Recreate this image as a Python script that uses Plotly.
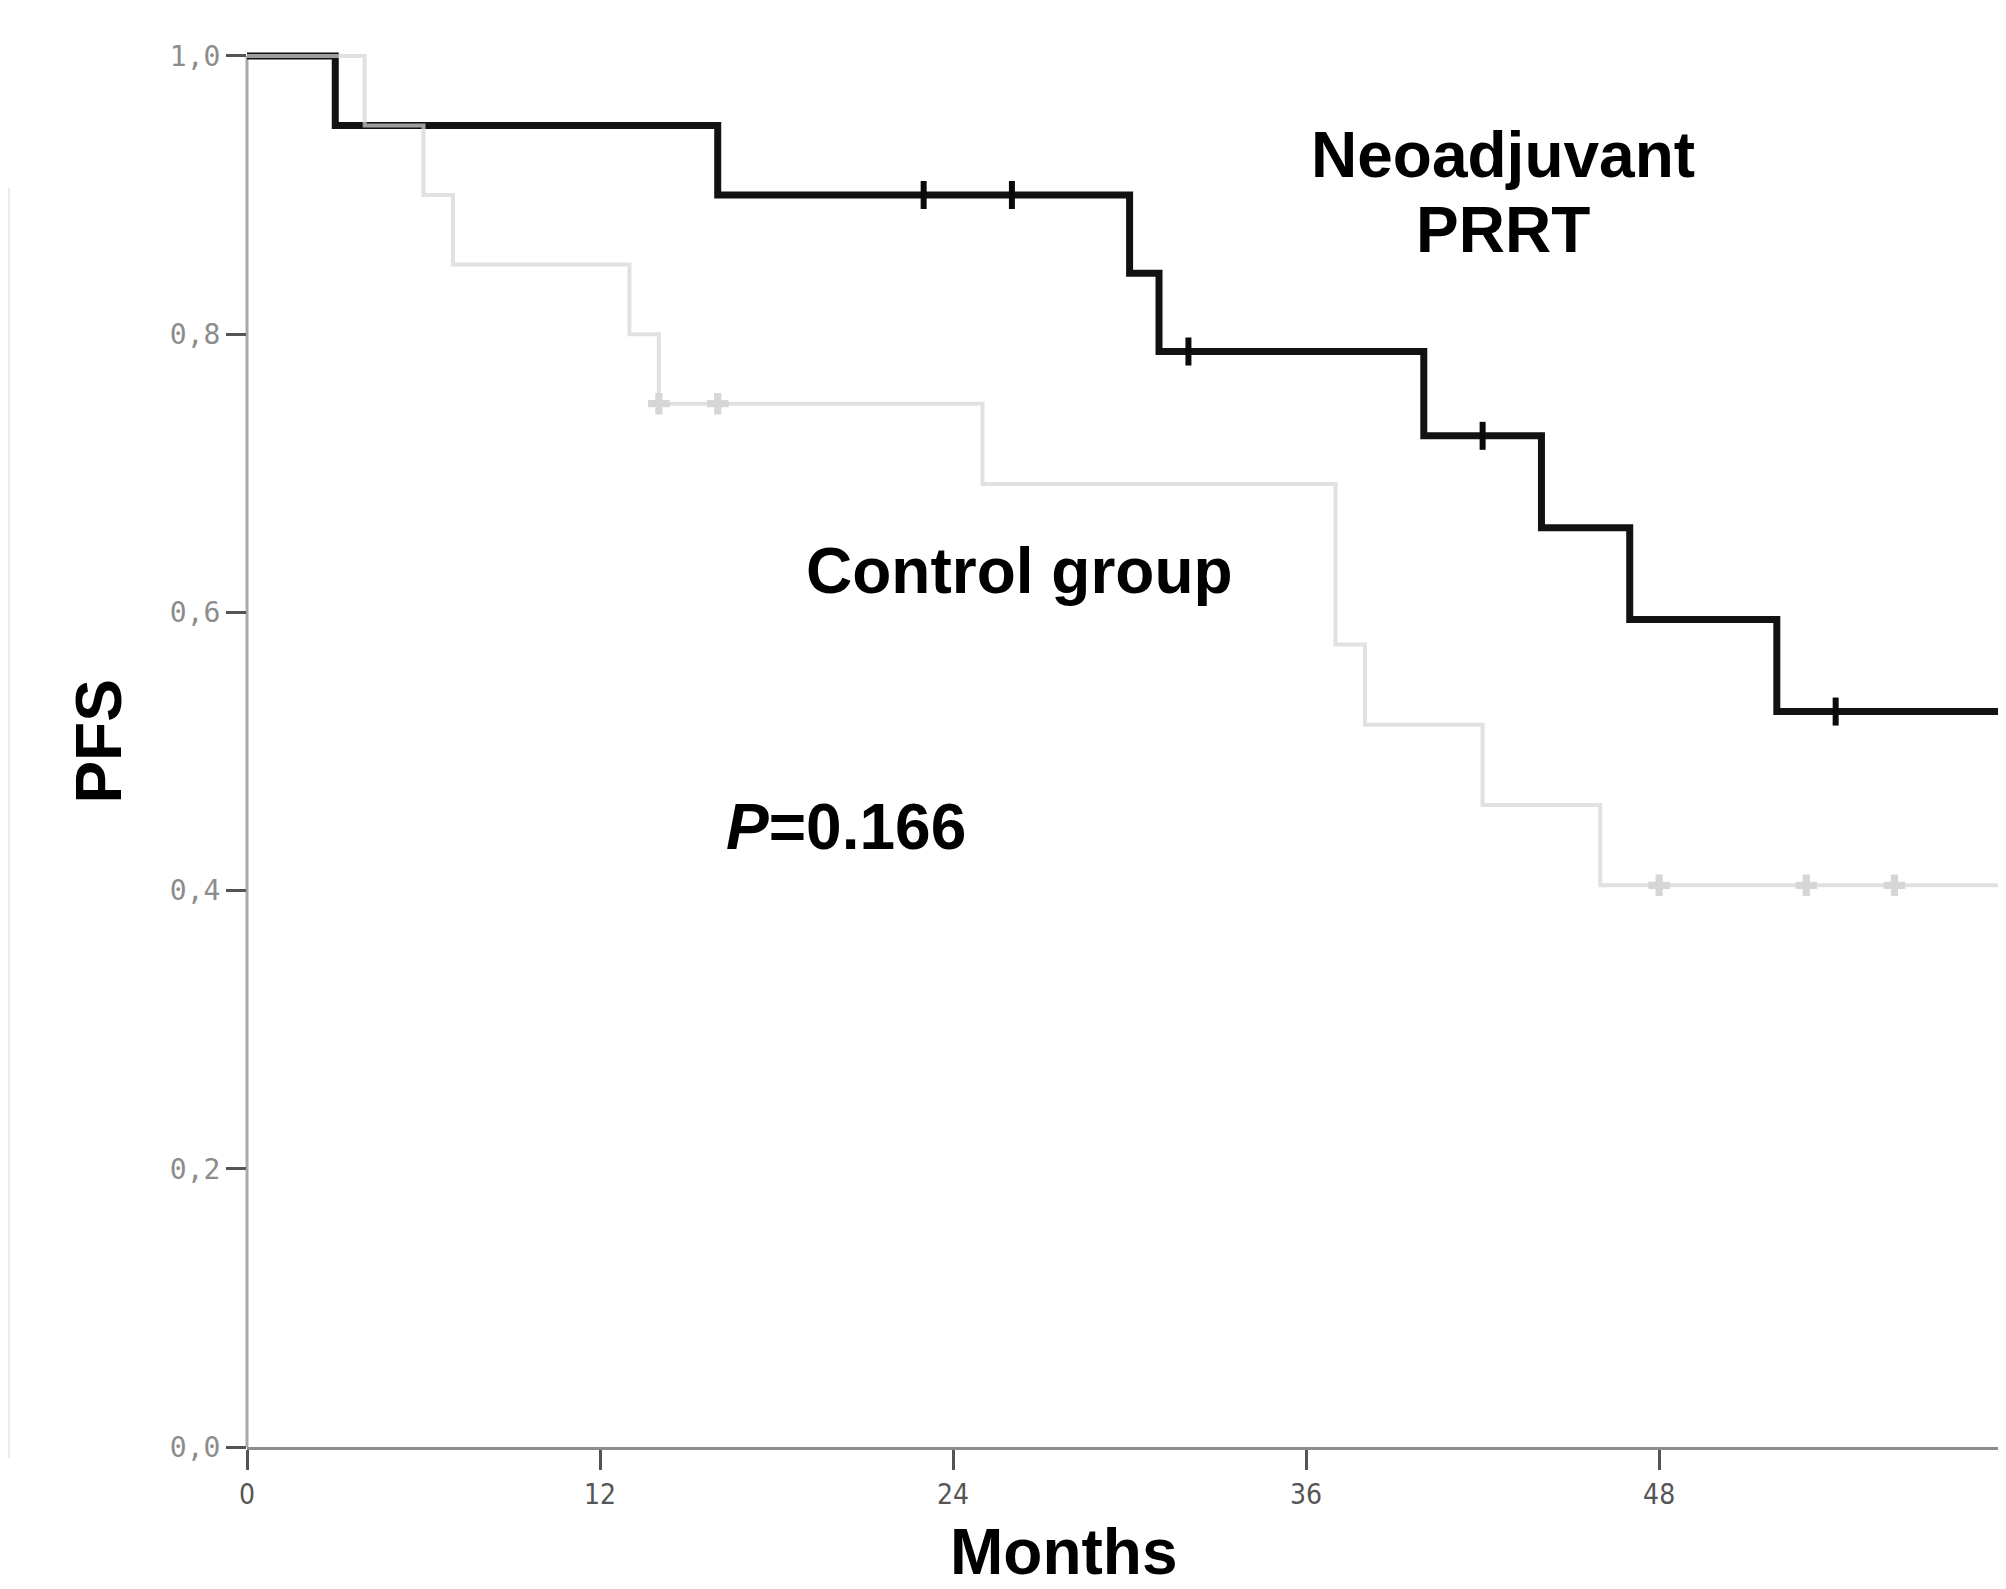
import numpy as np
import plotly.graph_objects as go

# ---------------- data ----------------
neo_times = [0, 3, 16, 30, 31, 40, 44, 47, 52, 60]
neo_surv = [1.0, 0.95, 0.90, 0.84375, 0.7875, 0.7269, 0.6608, 0.5948, 0.5287, 0.5287]
neo_censor_times = [23, 26, 32, 42, 54]

ctrl_times = [0, 4, 6, 7, 13, 14, 25, 37, 38, 42, 46, 60]
ctrl_surv = [1.0, 0.95, 0.90, 0.85, 0.80, 0.75, 0.6923, 0.5769, 0.5192, 0.4615, 0.4038, 0.4038]
ctrl_censor_times = [14, 16, 48, 53, 56]

x_ticks = [0, 12, 24, 36, 48, 60]
y_ticks = [0.0, 0.2, 0.4, 0.6, 0.8, 1.0]
y_ticktext = ["0,0", "0,2", "0,4", "0,6", "0,8", "1,0"]


def step_value(times, surv, t):
    idx = np.searchsorted(np.array(times), t, side="right") - 1
    return np.array(surv)[idx]


neo_censor_y = [step_value(neo_times, neo_surv, t) for t in neo_censor_times]
ctrl_censor_y = [step_value(ctrl_times, ctrl_surv, t) for t in ctrl_censor_times]

# ---------------- layout geometry ----------------
# the page body adds an 8px margin, so the figure is 8px smaller on each side
W, H = 1998, 1581
ML, MB, MT, MR = 239, 142, 34, 0
X_MAX = 59.79
Y_MAX = 1.01

BOLD = "Liberation Sans, Arial, sans-serif"

fig = go.Figure()

fig.add_trace(go.Scatter(
    x=neo_times, y=neo_surv, mode="lines", line_shape="hv",
    line=dict(color="#121212", width=7), showlegend=False, hoverinfo="skip"))
fig.add_trace(go.Scatter(
    x=neo_censor_times, y=neo_censor_y, mode="markers",
    marker=dict(symbol="line-ns", size=20, line=dict(color="#0a0a0a", width=6)),
    showlegend=False, hoverinfo="skip"))

fig.add_trace(go.Scatter(
    x=ctrl_times, y=ctrl_surv, mode="lines", line_shape="hv",
    line=dict(color="rgba(214,214,214,0.72)", width=4), showlegend=False, hoverinfo="skip"))
fig.add_trace(go.Scatter(
    x=ctrl_censor_times, y=ctrl_censor_y, mode="markers",
    marker=dict(symbol="cross", size=18, color="#d6d6d6", line=dict(width=0)),
    showlegend=False, hoverinfo="skip"))

# y axis line (only from 0 to 1)
fig.add_shape(type="line", xref="paper", yref="y", x0=0, x1=0, y0=0, y1=1.0,
              line=dict(color="#aaaaaa", width=3), layer="below")
# faint border at the far left of the picture
xb = (0 - ML) / (W - ML - MR)
fig.add_shape(type="line", xref="paper", yref="paper",
              x0=xb, x1=xb, y0=-0.008, y1=0.896,
              line=dict(color="#efeaea", width=4), layer="below")

ann_font = dict(family=BOLD, size=64, color="black")
fig.add_annotation(x=42.7, y=0.929, xref="x", yref="y", text="<b>Neoadjuvant</b>",
                   showarrow=False, font=ann_font, xanchor="center", yanchor="middle")
fig.add_annotation(x=42.7, y=0.875, xref="x", yref="y", text="<b>PRRT</b>",
                   showarrow=False, font=ann_font, xanchor="center", yanchor="middle")
fig.add_annotation(x=26.27, y=0.630, xref="x", yref="y", text="<b>Control group</b>",
                   showarrow=False, font=ann_font, xanchor="center", yanchor="middle")
fig.add_annotation(x=20.36, y=0.446, xref="x", yref="y", text="<b><i>P</i>=0.166</b>",
                   showarrow=False, font=ann_font, xanchor="center", yanchor="middle")

# axis titles
fig.add_annotation(x=0.4645, y=-0.0745, xref="paper", yref="paper", text="<b>Months</b>",
                   showarrow=False, font=ann_font, xanchor="center", yanchor="middle")
fig.add_annotation(x=-0.0842, y=0.502, xref="paper", yref="paper", text="<b>PFS</b>",
                   showarrow=False, font=ann_font, textangle=-90,
                   xanchor="center", yanchor="middle")

fig.update_layout(
    width=W, height=H, autosize=False,
    margin=dict(l=ML, r=MR, t=MT, b=MB, pad=0, autoexpand=False),
    paper_bgcolor="white", plot_bgcolor="white",
    showlegend=False,
    xaxis=dict(range=[0, X_MAX], tickvals=x_ticks, ticktext=[str(v) for v in x_ticks],
               ticks="outside", ticklen=20, tickwidth=3, tickcolor="#555555",
               showline=True, linecolor="#8c8c8c", linewidth=3,
               showgrid=False, zeroline=False,
               tickfont=dict(family="DejaVu Sans Condensed, DejaVu Sans", size=28, color="#555555")),
    yaxis=dict(range=[0, Y_MAX], tickvals=y_ticks, ticktext=y_ticktext,
               ticks="outside", ticklen=20, tickwidth=3, tickcolor="#555555",
               showline=False, showgrid=False, zeroline=False,
               tickfont=dict(family="DejaVu Sans Mono", size=28, color="#8c8c8c")),
)

fig.write_html("out.html")
